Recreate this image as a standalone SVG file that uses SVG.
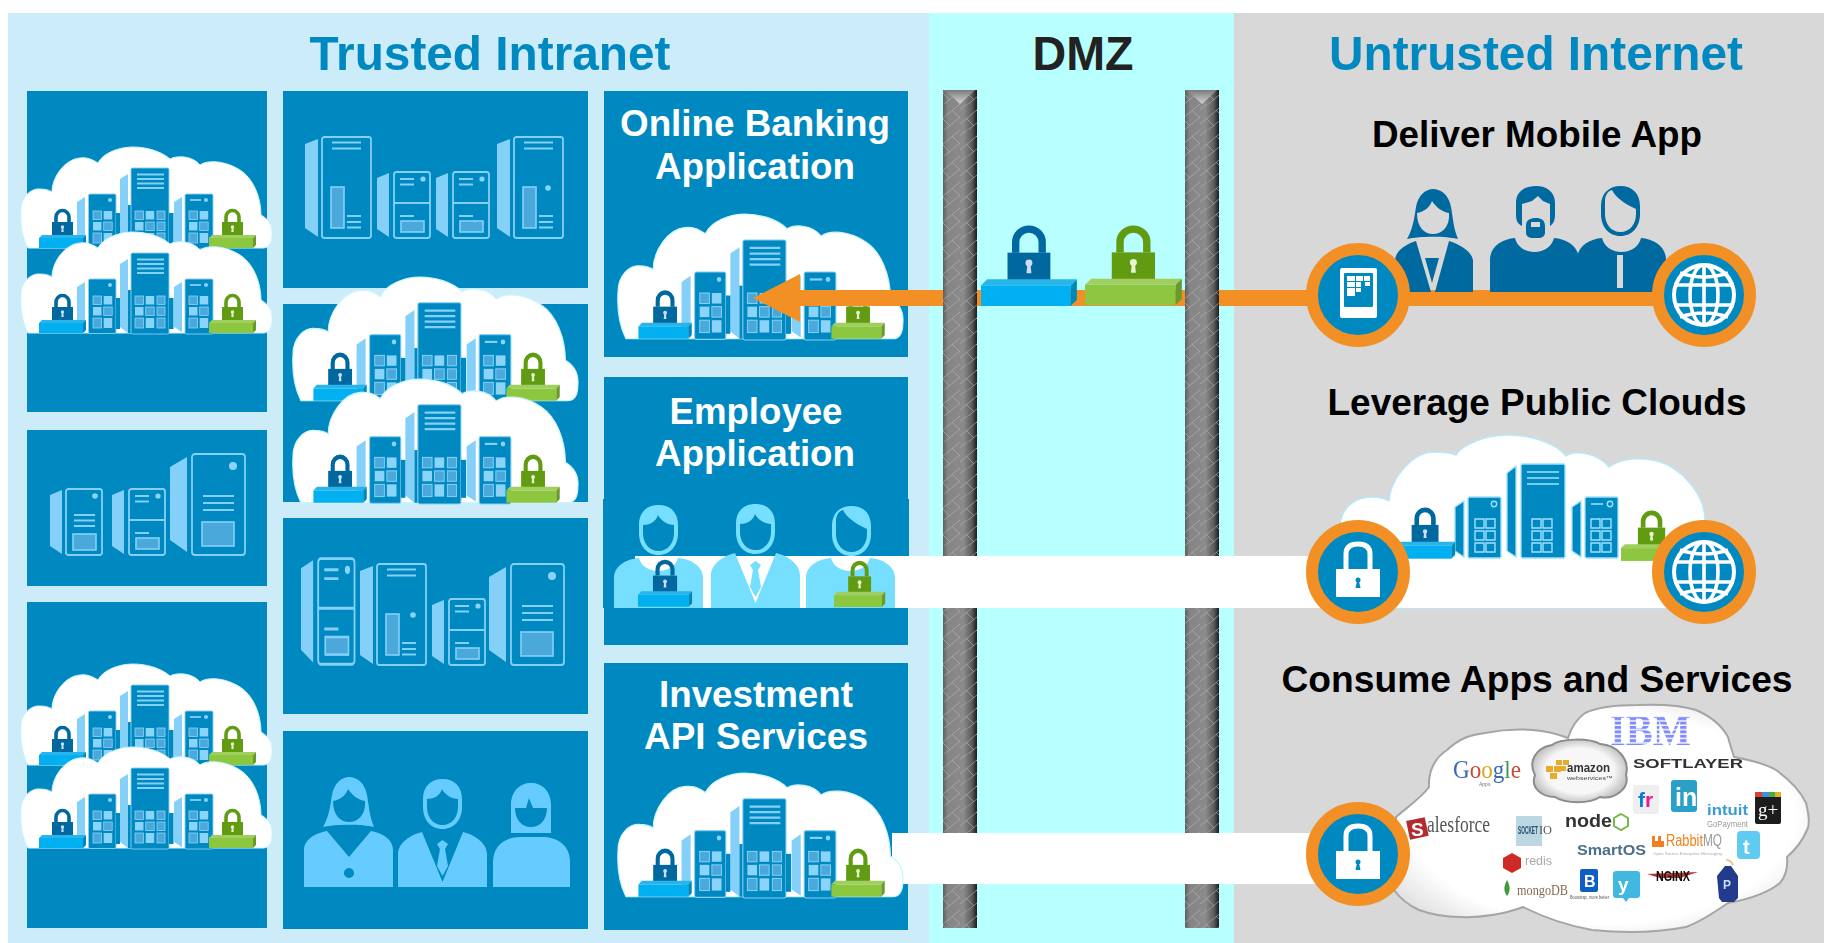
<svg xmlns="http://www.w3.org/2000/svg" width="1824" height="943" viewBox="0 0 1824 943">
<style>
text{font-family:"Liberation Sans",Arial,sans-serif}
.head{font-weight:700;font-size:49px;text-anchor:middle;fill:#0089c0}
.sub{font-weight:700;font-size:37px;text-anchor:middle;fill:#000}
.ptx{font-weight:700;font-size:36px;text-anchor:middle;fill:#fff}
.panel{fill:#0089c0}
.t{fill:none;stroke:#85d0f8;stroke-width:1.8}
.tf{fill:#4aa8db;stroke:#85d0f8;stroke-width:1.6}
.w{fill:#85d0f8}
.l{stroke:#85d0f8;stroke-width:1.8;fill:none}
.srv{fill:#0089c0;stroke:#85d0f8;stroke-width:.9}
.c1{fill:#8ad3f9}
.c2{fill:#4aa8db;stroke:#8ad3f9;stroke-width:.8}
.o{fill:#f29025}
.icn{fill:#0089c0}
.ci{fill:none;stroke:#9fe0ff;stroke-width:1.4}
.sv{font-family:"Liberation Serif",serif}
</style>
<defs>
<linearGradient id="postG" x1="0" x2="1" y1="0" y2="0"><stop offset="0" stop-color="#5f5f5f"/><stop offset=".14" stop-color="#858585"/><stop offset=".6" stop-color="#8b8b8b"/><stop offset=".85" stop-color="#5c5c5c"/><stop offset="1" stop-color="#1b1b1b"/></linearGradient>
<linearGradient id="capG" x1="0" x2="0" y1="0" y2="1"><stop offset="0" stop-color="#7a7a7a"/><stop offset="1" stop-color="#d5d5d5"/></linearGradient>
<pattern id="chain" width="24" height="26" patternUnits="userSpaceOnUse"><path d="M0 20 L24 0 M0 33 L24 13 M-2 7 L24 -13 M6 14 L14 22 M16 6 L24 14" fill="none" stroke="#b4b4b4" stroke-width="1" opacity=".6"/></pattern>
<pattern id="ibmS" width="4" height="4.4" patternUnits="userSpaceOnUse"><rect width="4" height="3" fill="#7f8cff"/></pattern>
<radialGradient id="vcG" cx=".5" cy=".5" r=".62"><stop offset=".75" stop-color="#fff"/><stop offset="1" stop-color="#dcdcdc"/></radialGradient>
<radialGradient id="azG" cx=".5" cy=".5" r=".6"><stop offset=".6" stop-color="#f7f7f7"/><stop offset="1" stop-color="#a8a8a8"/></radialGradient>
<filter id="soft" x="-5%" y="-5%" width="110%" height="110%"><feGaussianBlur stdDeviation=".4"/></filter>

<g id="lockB">
<path d="M17 13 V8 A6.5 6.5 0 0 1 30 8 V13" fill="none" stroke="#00679f" stroke-width="3.6"/>
<rect x="13" y="13" width="21" height="14" fill="#00679f"/>
<circle cx="23.5" cy="18" r="1.7" fill="#cdf"/><path d="M22.8 18 h1.4 l.5 5 h-2.4z" fill="#cdf"/>
<path d="M0 29 L3 26 H47 L44 29Z" fill="#29b5ea"/><rect y="29" width="44" height="10" fill="#00b0f0"/><path d="M44 29 L47 26 V36 L44 39Z" fill="#0089b8"/>
</g>
<g id="lockG">
<path d="M17 13 V8 A6.5 6.5 0 0 1 30 8 V13" fill="none" stroke="#619b12" stroke-width="3.6"/>
<rect x="13" y="13" width="21" height="14" fill="#619b12"/>
<circle cx="23.5" cy="18" r="1.7" fill="#e8f5d0"/><path d="M22.8 18 h1.4 l.5 5 h-2.4z" fill="#e8f5d0"/>
<path d="M0 29 L3 26 H47 L44 29Z" fill="#a0cf5f"/><rect y="29" width="44" height="10" fill="#8dc63f"/><path d="M44 29 L47 26 V36 L44 39Z" fill="#6b9a2a"/>
</g>
<g id="grid2">
<rect x="0" y="0" width="8.5" height="8.5" class="c2"/><rect x="10.7" y="0" width="8.5" height="8.5" class="c1"/>
<rect x="0" y="11" width="8.5" height="8.5" class="c1"/><rect x="10.7" y="11" width="8.5" height="8.5" class="c2"/>
<rect x="0" y="22" width="8.5" height="10" class="c2"/><rect x="10.7" y="22" width="8.5" height="10" class="c1"/>
</g>
<g id="cloud">
<path d="M7 101 C2 92 -1 78 0 63 C0 50 10 41 19 42 C24 42 28 43 31 45 C31 30 44 12 59 11 C67 10 72 13 77 16 C82 6 98 0 112 0 C125 0 140 4 149 12 C156 8 172 9 179 18 C186 13 203 13 219 23 C232 31 240 50 240 68 C247 72 252 78 251 88 C251 96 248 101 242 101Z" fill="#fff" stroke="#c8f5ff" stroke-width="1"/>
<path d="M56 55 L64 50 V100 L56 95Z" class="w"/>
<rect x="67.5" y="47" width="27.5" height="54.5" rx="1.5" class="srv"/><circle cx="89" cy="53" r="2" class="c1"/>
<use href="#grid2" x="72" y="64"/>
<path d="M99 32 L107 27 V101 L99 95Z" class="w"/><rect x="107" y="58" width="3" height="43" fill="#0089c0"/><rect x="95" y="66" width="4" height="31" fill="#0089c0"/>
<rect x="110" y="21" width="38" height="81" rx="1.5" class="srv"/>
<path d="M116 27.5H143M116 32H143M116 36.5H143M116 41H143" class="l" stroke-width="1.3"/>
<use href="#grid2" x="114" y="64"/><rect x="136" y="64" width="8" height="8.5" class="c2"/><rect x="136" y="75" width="8" height="8.5" class="c2"/><rect x="136" y="86" width="8" height="10" class="c2"/>
<rect x="148" y="66" width="4.5" height="31" fill="#0089c0"/>
<path d="M153 55 L161 50 V100 L153 95Z" class="w"/>
<rect x="164" y="47" width="28" height="55" rx="1.5" class="srv"/><path d="M169 53H180" class="l"/><circle cx="185" cy="53" r="2" class="c1"/>
<use href="#grid2" x="168" y="64"/>
<use href="#lockB" x="18" y="62"/><use href="#lockG" x="188" y="62"/>
</g>

<g id="towerA"><path d="M0 8 L13 3 V101 L0 92Z" class="w"/><rect x="17" y="1" width="49" height="101" rx="2.5" class="t"/><path d="M27 6.5H56M27 12.5H56M42 80H56M42 86H56M42 91.5H56" class="l"/><rect x="26" y="51" width="13" height="41" class="tf"/></g>
<g id="towerB"><path d="M0 7 L12 2 V66 L0 58Z" class="w"/><rect x="17" y="1" width="36" height="66" rx="2.5" class="t"/><path d="M17 32H53M23 8H37M23 13.5H37M23 45H37" class="l"/><circle cx="46" cy="8" r="2.6" class="c1"/><rect x="24" y="50" width="23" height="11" class="tf"/></g>
<g id="towerC"><path d="M0 14 L17 4 V99 L0 87Z" class="w"/><rect x="22" y="1" width="53" height="101" rx="3" class="t"/><circle cx="63" cy="13" r="4" class="c1"/><path d="M33 43H64M33 50H64M33 57H64" class="l"/><rect x="32" y="69" width="32" height="24" class="tf"/></g>
<g id="towerD"><path d="M0 7 L12 2 V66 L0 58Z" class="w"/><rect x="16" y="1" width="36" height="66" rx="2.5" class="t"/><circle cx="45" cy="8" r="2.8" class="c1"/><path d="M24 27H45M24 32.5H45M24 38H45" class="l"/><rect x="23" y="46" width="23" height="16" class="tf"/></g>

<path id="womanHair" fill-rule="evenodd" d="M19 50 C26 38 27 23 28 18 C30 6 38 0 45 0 C53 0 61 6 63 18 C65 28 65 38 70 50 C58 47 32 47 19 50Z M29 24 C36 23 42 18 44 12 C48 18 54 23 61 24 C62 38 54 45 45 45 C36 45 29 38 29 24Z"/>
<path id="womanBody" fill-rule="evenodd" d="M0 110 V73 C0 63 11 56 23 54 L45 80 L67 54 C79 56 89 63 89 73 V110Z M45 91 a5 5 0 1 0 .01 0Z"/>
<path id="manHead" fill-rule="evenodd" d="M0 20 C0 7 8 0 19.5 0 C31 0 39 7 39 20 V28 C39 41 31 50 19.5 50 C8 50 0 41 0 28Z M4 20 C10 20 17 17 19 10 C22 16 29 20 35 20 V28 C35 38 29 46 19.5 46 C10 46 4 38 4 28Z"/>
<path id="manHead2" fill-rule="evenodd" d="M0 20 C0 7 8 0 19.5 0 C31 0 39 7 39 20 V28 C39 41 31 50 19.5 50 C8 50 0 41 0 28Z M4 15 C4 9 7 5 11 4 C14 11 24 18 35 23 V28 C35 38 29 46 19.5 46 C10 46 4 38 4 28Z"/>
<path id="manBody" d="M0 55 V22 C0 12 11 3 24 0 L44.5 50 L65 0 C78 3 89 12 89 22 V55Z"/>
<path id="tie" d="M44.5 8 L50 12 L47 17 L50 34 L44.5 44 L39 34 L42 17 L39 12Z"/>
<path id="roundBody" d="M0 50 V20 C0 8 12 1 25 0 C27 8 35 13 44.5 13 C54 13 62 8 64 0 C77 1 89 8 89 20 V50Z"/>

<g id="globe">
<circle r="32" fill="#fff"/>
<circle r="28" fill="#0089c0"/>
<g fill="none" stroke="#fff" stroke-width="3.6"><ellipse rx="14" ry="30"/><path d="M0 -30V30M-30 -10H30M-30 10H30M-24 -22 Q0 -14 24 -22M-24 22 Q0 14 24 22"/></g>
</g>
<g id="padlock">
<path d="M-12 0 V-18 C-12 -26 -6 -28 0 -28 C6 -28 12 -26 12 -18 V0" fill="none" stroke="#fff" stroke-width="5"/>
<rect x="-22" y="-3" width="44" height="28" fill="#fff"/>
<circle cy="8" r="2.5" class="icn"/><path d="M-1 9 h2 l1.500 7 h-5z" class="icn"/>
</g>
</defs>

<g id="zones">
<rect x="8" y="13" width="921" height="930" fill="#cdecfa"/>
<rect x="929" y="13" width="305" height="930" fill="#b8ffff"/>
<rect x="1234" y="13" width="590" height="930" fill="#d8d8d8"/>
<text class="head" x="490" y="70" textLength="361" lengthAdjust="spacingAndGlyphs">Trusted Intranet</text>
<text class="head" x="1083" y="70" textLength="101" lengthAdjust="spacingAndGlyphs" style="fill:#222">DMZ</text>
<text class="head" x="1536" y="70" textLength="414" lengthAdjust="spacingAndGlyphs">Untrusted Internet</text>
<text class="sub" x="1537" y="147" textLength="330" lengthAdjust="spacingAndGlyphs">Deliver Mobile App</text>
<text class="sub" x="1537" y="415" textLength="419" lengthAdjust="spacingAndGlyphs">Leverage Public Clouds</text>
<text class="sub" x="1537" y="692" textLength="511" lengthAdjust="spacingAndGlyphs">Consume Apps and Services</text>
</g>

<g id="panel-a"><rect class="panel" x="27" y="91" width="240" height="321"/>
<use href="#cloud" transform="translate(21 147)"/><use href="#cloud" transform="translate(21 232)"/></g>
<g id="panel-b"><rect class="panel" x="27" y="430" width="240" height="156"/>
<use href="#towerD" x="50" y="488"/><use href="#towerB" x="112" y="488"/><use href="#towerC" x="170" y="453"/></g>
<g id="panel-c"><rect class="panel" x="27" y="602" width="240" height="326"/>
<use href="#cloud" transform="translate(21 664)"/><use href="#cloud" transform="translate(21 747)"/></g>
<g id="panel-d"><rect class="panel" x="283" y="91" width="305" height="197"/>
<use href="#towerA" x="305" y="136"/><use href="#towerB" x="377" y="171"/><use href="#towerB" x="436" y="171"/><use href="#towerA" x="497" y="136"/><circle cx="548" cy="188" r="2.8" class="c1"/></g>
<g id="panel-e"><rect class="panel" x="283" y="304" width="305" height="198"/>
<use href="#cloud" transform="translate(293 277) scale(1.135 1.225)"/><use href="#cloud" transform="translate(293 379) scale(1.135 1.225)"/></g>
<g id="panel-f"><rect class="panel" x="283" y="518" width="305" height="196"/>
<use href="#towerB" transform="translate(301 557) scale(1.01 1.6)"/><use href="#towerA" x="360" y="563"/><circle cx="413" cy="615" r="2.8" class="c1"/><use href="#towerB" x="432" y="598"/><use href="#towerC" x="489" y="563"/></g>
<g id="panel-g"><rect class="panel" x="283" y="731" width="305" height="198"/>
<g fill="#66ccff">
<use href="#womanHair" x="304" y="777"/><use href="#womanBody" x="304" y="777"/>
<use href="#manHead" x="423" y="779"/><use href="#manBody" x="398" y="832"/><use href="#tie" x="398" y="832"/>
<path fill-rule="evenodd" d="M511 833 V805 C511 791 520 783 531 783 C542 783 551 791 551 805 V833Z M515 808 H526 L529 798 L533 808 H547 C547 820 540 827 531 827 C522 827 515 820 515 808Z"/>
<path d="M493 887 V862 C493 846 505 837 520 837 H543 C558 837 570 846 570 862 V887Z"/>
</g></g>
<g id="panel-h"><rect class="panel" x="604" y="91" width="304" height="266"/>
<text class="ptx" x="755" y="136" textLength="270" lengthAdjust="spacingAndGlyphs">Online Banking</text>
<text class="ptx" x="755" y="179" textLength="200" lengthAdjust="spacingAndGlyphs">Application</text>
<use href="#cloud" transform="translate(618 214) scale(1.135 1.235)"/></g>
<g id="panel-i-bg"><rect class="panel" x="604" y="377" width="304" height="268"/><rect class="panel" x="603" y="499" width="306" height="109"/>
<text class="ptx" x="756" y="424" textLength="173" lengthAdjust="spacingAndGlyphs">Employee</text>
<text class="ptx" x="755" y="466" textLength="200" lengthAdjust="spacingAndGlyphs">Application</text></g>
<g id="panel-j-bg"><rect class="panel" x="604" y="663" width="304" height="267"/>
<text class="ptx" x="756" y="707" textLength="194" lengthAdjust="spacingAndGlyphs">Investment</text>
<text class="ptx" x="756" y="749" textLength="224" lengthAdjust="spacingAndGlyphs">API Services</text></g>

<g id="post-left"><rect x="943" y="90" width="34" height="838" fill="url(#postG)"/><rect x="943" y="90" width="34" height="838" fill="url(#chain)"/><path d="M945 90H975L960 104Z" fill="url(#capG)"/></g>
<g id="post-right"><rect x="1185" y="90" width="34" height="838" fill="url(#postG)"/><rect x="1185" y="90" width="34" height="838" fill="url(#chain)"/><path d="M1187 90H1217L1202 104Z" fill="url(#capG)"/></g>

<g id="connectors">
<rect x="635" y="556" width="723" height="52" fill="#fff"/>
<rect x="892" y="833" width="466" height="51" fill="#fff"/>
<path class="o" d="M753 298 L800 274 V290 H943 V306 H800 V322Z"/>
<rect class="o" x="977" y="290" width="208" height="16"/>
<rect class="o" x="1219" y="290" width="485" height="16"/>
</g>

<g id="employee-people" fill="#76dfff">
<use href="#manHead" x="639" y="505"/><use href="#roundBody" x="614" y="558"/>
<use href="#manHead" x="736" y="504"/><use href="#manBody" x="711" y="553"/><use href="#tie" x="711" y="553"/>
<use href="#manHead2" x="832" y="506"/><use href="#roundBody" x="806" y="558"/>
<use href="#lockB" transform="translate(638 560) scale(1.15 1.2)"/>
<use href="#lockG" transform="translate(834 561) scale(1.09 1.18)"/>
</g>
<g id="investment-cloud"><use href="#cloud" transform="translate(618 773) scale(1.135 1.225)"/></g>

<g id="dmz-lock-blue"><use href="#lockB" transform="translate(981 226) scale(2.04 2.05)"/></g>
<g id="dmz-lock-green"><use href="#lockG" transform="translate(1085 226) scale(2.06 2.03)"/></g>

<g id="mobile-users" fill="#00699f">
<use href="#womanHair" x="1388" y="189"/>
<path d="M1395 292 V260 C1396 251 1404 245 1416 241 L1431 292Z M1449 241 C1461 245 1471 251 1473 260 V292 H1435Z M1425 258 H1439 L1432 283Z"/>
<path d="M1516 215 V203 C1516 192 1524 186 1536 186 C1547 186 1555 192 1555 203 V215 C1555 221 1553 224 1550 226 L1550 204 L1543 201 L1538 196 L1532 201 L1522 204 L1522 226 C1518 224 1516 221 1516 215Z"/>
<path fill-rule="evenodd" d="M1526 226 C1526 220 1530 218 1536 218 C1541 218 1545 220 1545 226 V233 C1545 236 1542 238 1538 238 H1533 C1529 238 1526 236 1526 233Z M1531 222 H1540 V227 H1531Z"/>
<use href="#roundBody" transform="translate(1490 238) scale(1 1.08)"/>
<use href="#manHead2" x="1601" y="186"/>
<use href="#roundBody" transform="translate(1577 238) scale(1 1.08)"/>
<rect x="1617" y="255" width="6" height="33" fill="#d8d8d8"/>
</g>

<g id="public-cloud">
<path d="M1340 608 V525 C1342 505 1358 497 1372 497 C1380 497 1386 499 1389 501 C1390 480 1412 452 1434 452 C1442 452 1450 452 1456 455 C1462 445 1484 435 1508 435 C1530 435 1556 443 1566 456 C1574 450 1596 452 1609 467 C1620 459 1644 454 1668 465 C1688 476 1705 498 1705 520 V608Z" fill="#fff" stroke="#b8e8fa" stroke-width="1.5"/>
<rect x="1300" y="556" width="60" height="52" fill="#fff"/>
<rect x="1336" y="600" width="380" height="8" fill="#fff"/>
<g fill="#0089c0" stroke="#9fe0ff" stroke-width="1.3">
<path d="M1455 507 L1464 501 V557 L1455 551Z"/><rect x="1468" y="497" width="33" height="61" rx="1.5"/>
<path d="M1507 473 L1516 466 V557 L1507 551Z"/><rect x="1521" y="464" width="44" height="94" rx="1.5"/>
<path d="M1572 507 L1581 501 V557 L1572 551Z"/><rect x="1585" y="497" width="33" height="61" rx="1.5"/>
</g>
<path d="M1527 472H1559M1527 478H1559M1527 484H1559M1591 504H1603" class="ci"/>
<circle cx="1494" cy="504" r="2.7" class="ci"/><circle cx="1610" cy="504" r="2.7" class="ci"/>
<g class="ci">
<path d="M1475 519h9v9h-9zM1486 519h9v9h-9zM1475 531h9v9h-9zM1486 531h9v9h-9zM1475 543h9v9h-9zM1486 543h9v9h-9z"/>
<path d="M1532 519h9v9h-9zM1543 519h9v9h-9zM1532 531h9v9h-9zM1543 531h9v9h-9zM1532 543h9v9h-9zM1543 543h9v9h-9z"/>
<path d="M1591 519h9v9h-9zM1602 519h9v9h-9zM1591 531h9v9h-9zM1602 531h9v9h-9zM1591 543h9v9h-9zM1602 543h9v9h-9z"/>
</g>
<use href="#lockB" transform="translate(1395 508) scale(1.28 1.3)"/>
<use href="#lockG" transform="translate(1621 511) scale(1.3 1.28)"/>
</g>

<g id="vendor-cloud">
<path d="M1396 817 C1410 805 1422 797 1429 787 C1428 770 1436 757 1447 750 C1460 738 1470 735 1485 733 C1500 730 1520 729 1533 730 C1548 731 1560 735 1568 738 C1572 725 1578 718 1585 713 C1600 706 1620 705 1637 705 C1660 704 1680 705 1696 710 C1710 716 1722 726 1728 737 C1730 745 1732 750 1734 757 C1750 760 1766 764 1776 770 C1790 780 1800 790 1806 803 C1809 815 1810 825 1807 830 C1802 842 1795 850 1787 857 C1788 868 1786 876 1780 883 C1765 895 1745 900 1728 903 C1715 912 1700 922 1686 927 C1655 933 1620 933 1592 930 C1570 926 1545 918 1523 907 C1505 914 1480 918 1460 917 C1445 917 1430 914 1419 910 C1408 905 1400 898 1394 890 Z" fill="url(#vcG)" stroke="#a5a5a5" stroke-width="2"/>
<g filter="url(#soft)">
<text x="1610" y="745" textLength="81" lengthAdjust="spacingAndGlyphs" class="sv" font-weight="700" font-size="44" fill="url(#ibmS)">IBM</text>
<text x="1453" y="778" textLength="68" lengthAdjust="spacingAndGlyphs" class="sv" font-size="25"><tspan fill="#3b6ab5">G</tspan><tspan fill="#c94a3a">o</tspan><tspan fill="#d9a521">o</tspan><tspan fill="#3b6ab5">g</tspan><tspan fill="#3c9a4e">l</tspan><tspan fill="#c94a3a">e</tspan></text>
<text x="1479" y="786" font-size="5" fill="#777">Apps</text>
<path d="M1535 775 C1528 762 1535 748 1552 745 C1560 738 1590 738 1600 744 C1618 745 1630 760 1626 775 C1630 788 1615 800 1600 797 C1590 804 1565 804 1555 797 C1542 797 1530 788 1535 775Z" fill="url(#azG)" stroke="#8c8c8c" stroke-width="2"/>
<g fill="#e8ac2a"><rect x="1546" y="766" width="7" height="6"/><rect x="1554" y="766" width="7" height="6"/><rect x="1550" y="773" width="7" height="6"/><rect x="1556" y="760" width="6" height="5"/><rect x="1563" y="760" width="6" height="5"/><rect x="1560" y="766" width="6" height="5"/></g>
<text x="1567" y="772" textLength="43" lengthAdjust="spacingAndGlyphs" font-size="12" font-weight="700" fill="#333">amazon</text>
<text x="1567" y="780" textLength="46" lengthAdjust="spacingAndGlyphs" font-size="5.5" fill="#444">webservices™</text>
<text x="1633" y="768" textLength="110" lengthAdjust="spacingAndGlyphs" font-size="12" font-weight="700" fill="#333">SOFTLAYER</text>
<rect x="1633" y="785" width="26" height="29" rx="2" fill="#efefef"/>
<text x="1638" y="807" font-size="21" font-weight="700" fill="#0a7bd6">f<tspan fill="#f0188c">r</tspan></text>
<rect x="1671" y="780" width="26" height="32" rx="3" fill="#2a9fc8"/>
<text x="1675" y="806" font-size="25" font-weight="700" fill="#fff">in</text>
<text x="1707" y="815" textLength="41" lengthAdjust="spacingAndGlyphs" font-size="15" font-weight="700" fill="#3a9ad9">intuit</text>
<text x="1707" y="827" textLength="41" lengthAdjust="spacingAndGlyphs" font-size="9" fill="#999">GoPayment</text>
<rect x="1755" y="792" width="26" height="32" rx="2" fill="#1a1a1a"/>
<rect x="1755" y="792" width="7" height="5" fill="#d8432f"/><rect x="1762" y="792" width="7" height="5" fill="#3d8de0"/><rect x="1769" y="792" width="6" height="5" fill="#4ea84e"/><rect x="1775" y="792" width="6" height="5" fill="#e0b02c"/>
<text x="1758" y="816" class="sv" font-size="19" fill="#fff">g+</text>
<rect x="1408" y="819" width="19" height="19" fill="#b42a2e" transform="rotate(-12 1417 829)"/>
<text x="1411" y="836" font-size="19" font-weight="700" fill="#fff">S</text>
<text x="1427" y="832" textLength="63" lengthAdjust="spacingAndGlyphs" class="sv" font-size="24" fill="#555">alesforce</text>
<rect x="1516" y="816" width="26" height="30" fill="#bcd6e2"/>
<text x="1518" y="834" textLength="20" lengthAdjust="spacingAndGlyphs" font-size="10" font-weight="700" fill="#24506e">SOCKET</text>
<text x="1539" y="834" textLength="13" lengthAdjust="spacingAndGlyphs" class="sv" font-size="13" fill="#555">IO</text>
<text x="1565" y="827" textLength="47" lengthAdjust="spacingAndGlyphs" font-size="19" font-weight="700" fill="#333">node</text>
<path d="M1621 814 L1628 818 V826 L1621 830 L1614 826 V818Z" fill="none" stroke="#7ab648" stroke-width="2"/>
<text x="1577" y="855" textLength="69" lengthAdjust="spacingAndGlyphs" font-size="15" font-weight="700" fill="#4a6f8a">SmartOS</text>
<path d="M1652 836 h3v5h3v-5h3v5h3v6h-12z" fill="#f28020"/>
<text x="1666" y="846" textLength="37" lengthAdjust="spacingAndGlyphs" font-size="16" fill="#f28020">Rabbit</text>
<text x="1703" y="846" textLength="19" lengthAdjust="spacingAndGlyphs" font-size="16" fill="#999">MQ</text>
<text x="1653" y="855" textLength="69" lengthAdjust="spacingAndGlyphs" font-size="4" fill="#aaa">Open Source Enterprise Messaging</text>
<rect x="1737" y="831" width="23" height="28" rx="4" fill="#5ecbf0"/>
<text x="1743" y="854" font-size="20" font-weight="700" fill="#fff">t</text>
<path d="M1503 858 L1512 853 L1521 858 V868 L1512 873 L1503 868Z" fill="#cf2a25"/>
<text x="1525" y="865" textLength="27" lengthAdjust="spacingAndGlyphs" font-size="13" fill="#aaa">redis</text>
<path d="M1507 880 C1503 887 1504 892 1507 896 C1510 892 1511 887 1507 880Z" fill="#3f9a3d"/>
<text x="1517" y="895" textLength="51" lengthAdjust="spacingAndGlyphs" class="sv" font-size="14" fill="#8a6a50">mongoDB</text>
<rect x="1580" y="869" width="18" height="23" rx="2" fill="#0e5ec4"/>
<text x="1584" y="887" font-size="16" font-weight="700" fill="#fff">B</text>
<text x="1570" y="899" textLength="39" lengthAdjust="spacingAndGlyphs" font-size="4.5" fill="#555">Bootstrap, more better</text>
<path d="M1613 874 a3 3 0 0 1 3 -3 h21 a3 3 0 0 1 3 3 v21 a3 3 0 0 1 -3 3 h-8 l-3 4 l-3 -4 h-7 a3 3 0 0 1 -3 -3z" fill="#40b8e0"/>
<text x="1618" y="891" font-size="19" font-weight="700" fill="#fff">y</text>
<path d="M1647 874 L1698 872 L1680 878 L1660 878Z" fill="#b33"/>
<text x="1656" y="881" textLength="34" lengthAdjust="spacingAndGlyphs" font-size="14" font-weight="700" fill="#111">NGINX</text>
<path d="M1725 866 h6 l7 10 v22 l-4 4 h-12 l-3 -4 l-2 -22z" fill="#243a8c"/>
<path d="M1726 860 q5 0 7 5" fill="none" stroke="#e8a13a" stroke-width="1.2"/>
<text x="1723" y="889" font-size="12" font-weight="700" fill="#cdf">P</text>
</g>
</g>

<g id="circle-mobile">
<circle cx="1358" cy="295" r="46" class="icn" stroke="#f29025" stroke-width="12"/>
<rect x="1340" y="268" width="37" height="50" rx="2" fill="#fff"/>
<rect x="1344" y="273" width="29" height="34" rx="1" class="icn"/>
<path d="M1347 276h8v5h-8zM1356 276h7v5h-7zM1364 276h6v5h-6zM1347 282h8v5h-8zM1356 282h5v5h-5zM1365 282h5v4h-5zM1347 288h8v8h-8zM1356 288h5v4h-5z" fill="#fff"/>
</g>
<g id="circle-globe-top">
<circle cx="1704" cy="295" r="46" class="icn" stroke="#f29025" stroke-width="12"/>
<use href="#globe" x="1704" y="295"/>
</g>
<g id="circle-lock-mid">
<circle cx="1358" cy="572" r="46" class="icn" stroke="#f29025" stroke-width="12"/>
<use href="#padlock" x="1358" y="572"/>
</g>
<g id="circle-globe-mid">
<circle cx="1704" cy="572" r="46" class="icn" stroke="#f29025" stroke-width="12"/>
<use href="#globe" x="1704" y="572"/>
</g>
<g id="circle-lock-bottom">
<circle cx="1358" cy="854" r="46" class="icn" stroke="#f29025" stroke-width="12"/>
<use href="#padlock" x="1358" y="854"/>
</g>
</svg>
